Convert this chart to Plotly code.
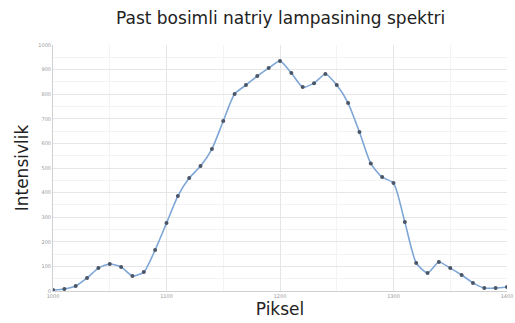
import plotly.graph_objects as go

piksel = list(range(1000, 1410, 10))
intensivlik = [4, 8, 20, 53, 93, 110, 98, 61, 77, 167,
               276, 386, 459, 508, 577, 691, 801, 837, 874, 906,
               935, 886, 829, 845, 882, 837, 764, 646, 518, 463,
               439, 280, 114, 73, 118, 93, 65, 33, 12, 12, 16]
x_ticks = [1000, 1100, 1200, 1300, 1400]
y_ticks = list(range(0, 1100, 100))

fig = go.Figure()
fig.add_trace(go.Scatter(
    x=piksel, y=intensivlik, mode="lines+markers",
    line=dict(color="#7ea6d6", width=1.6, shape="spline", smoothing=0.6),
    marker=dict(color="#4a5566", size=4),
    showlegend=False,
))

fig.update_layout(
    width=515, height=323,
    margin=dict(l=53, r=8, t=45, b=32, autoexpand=False),
    paper_bgcolor="white", plot_bgcolor="white",
    title=dict(text="Past bosimli natriy lampasining spektri", x=0.545, xanchor="center",
               y=0.945, yanchor="middle",
               font=dict(family="DejaVu Sans", size=17, color="#222")),
    font=dict(family="DejaVu Sans"),
)
fig.update_xaxes(
    range=[1000, 1400], tickvals=x_ticks, ticktext=[str(v) for v in x_ticks],
    tickfont=dict(size=5, color="#999"), automargin=False,
    showgrid=True, gridcolor="#e6e6e6", gridwidth=1,
    minor=dict(dtick=50, showgrid=True, gridcolor="#f3f3f3"),
    showline=True, linecolor="#d0d0d0", zeroline=False,
    title=dict(text="Piksel", font=dict(size=17, color="#222"), standoff=3),
)
fig.update_yaxes(
    range=[0, 1000], tickvals=y_ticks, ticktext=[str(v) for v in y_ticks],
    tickfont=dict(size=5, color="#999"), automargin=False,
    showgrid=True, gridcolor="#e6e6e6", gridwidth=1,
    minor=dict(dtick=50, showgrid=True, gridcolor="#f3f3f3"),
    showline=True, linecolor="#d0d0d0", zeroline=False,
    title=dict(text="Intensivlik", font=dict(size=17, color="#222"), standoff=5),
)

fig.write_html("out.html")
